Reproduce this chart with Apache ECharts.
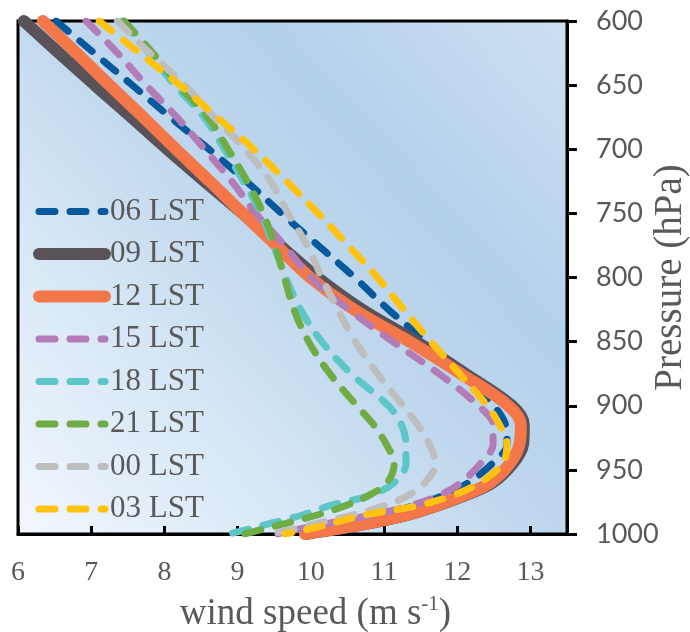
<!DOCTYPE html>
<html>
<head>
<meta charset="utf-8">
<script src="https://cdn.jsdelivr.net/npm/echarts@6/dist/echarts.min.js"></script>
<style>
  html, body { margin: 0; padding: 0; background: #fff; }
  #chart { width: 690px; height: 632px; }
</style>
</head>
<body>
<div id="chart"></div>
<script>
// pressure levels (hPa) shared by all profiles
const pressure = [600, 625, 650, 675, 700, 725, 750, 775, 800, 825, 850, 875, 900, 915, 930, 945, 960, 970, 978, 985, 991, 996, 1000];

// wind speed (m s-1) at each level, per local time
const lst06 = [6.52, 7.04, 7.56, 8.08, 8.61, 9.12, 9.60, 10.10, 10.60, 11.06, 11.58, 12.08, 12.50, 12.66, 12.68, 12.48, 12.15, 11.80, 11.40, 10.95, 10.50, 10.10, 9.72];
const lst09 = [6.08, 6.56, 7.05, 7.55, 8.04, 8.55, 9.07, 9.58, 10.09, 10.70, 11.44, 12.11, 12.75, 12.91, 12.90, 12.76, 12.48, 12.10, 11.72, 11.33, 10.86, 10.37, 9.93];
const lst12 = [6.34, 6.80, 7.25, 7.71, 8.16, 8.62, 9.07, 9.53, 9.99, 10.59, 11.35, 12.05, 12.70, 12.87, 12.85, 12.72, 12.45, 12.08, 11.71, 11.32, 10.85, 10.36, 9.92];
const lst15 = [6.93, 7.36, 7.75, 8.17, 8.55, 8.92, 9.25, 9.64, 10.00, 10.52, 11.12, 11.75, 12.29, 12.49, 12.49, 12.32, 12.05, 11.75, 11.36, 10.85, 10.30, 9.85, 9.55];
const lst18 = [7.42, 7.79, 8.14, 8.54, 8.82, 9.08, 9.32, 9.49, 9.66, 9.86, 10.15, 10.55, 11.06, 11.24, 11.30, 11.30, 11.14, 10.80, 10.25, 9.90, 9.50, 9.17, 8.88];
const lst21 = [7.45, 7.84, 8.19, 8.59, 8.87, 9.13, 9.35, 9.51, 9.64, 9.77, 9.97, 10.26, 10.63, 10.86, 11.03, 11.14, 11.04, 10.79, 10.47, 10.10, 9.71, 9.36, 9.10];
const lst00 = [7.36, 7.80, 8.28, 8.68, 9.10, 9.45, 9.69, 9.95, 10.15, 10.37, 10.61, 10.91, 11.26, 11.46, 11.62, 11.70, 11.56, 11.33, 11.00, 10.58, 10.14, 9.78, 9.45];
const lst03 = [7.11, 7.66, 8.21, 8.72, 9.22, 9.67, 10.10, 10.51, 10.91, 11.27, 11.64, 12.03, 12.41, 12.58, 12.68, 12.62, 12.31, 11.93, 11.45, 10.75, 10.33, 9.98, 9.65];

const names = ['06 LST', '09 LST', '12 LST', '15 LST', '18 LST', '21 LST', '00 LST', '03 LST'];
const profiles = [lst06, lst09, lst12, lst15, lst18, lst21, lst00, lst03];
const colors = ['#07599E', '#5A5259', '#F4774A', '#B47CB7', '#5DC7C8', '#6FAC46', '#BEBEBE', '#FFC20E'];
const solid = ['09 LST', '12 LST'];

const serif = '"Liberation Serif", "Times New Roman", serif';
const textColor = '#595959';

function lineStyleFor(name, color) {
    return solid.includes(name)
        ? { color: color, width: 12, type: 'solid', cap: 'round' }
        : { color: color, width: 7, type: [16, 15], cap: 'round' };
}

const chart = echarts.init(document.getElementById('chart'));

const series = names.map((name, i) => ({
    name: name,
    type: 'line',
    data: profiles[i].map((v, k) => [v, pressure[k]]),
    smooth: 0.35,
    symbol: 'none',
    clip: true,
    color: colors[i],
    lineStyle: lineStyleFor(name, colors[i])
}));

chart.setOption({
    animation: false,
    grid: {
        left: 18, right: 123, top: 21, bottom: 98,
        outerBoundsMode: 'none',
        containLabel: false,
        show: true,
        borderColor: '#000',
        borderWidth: 3,
        backgroundColor: new echarts.graphic.LinearGradient(0, 1, 1, 0, [
            { offset: 0, color: '#F2F7FD' },
            { offset: 0.3, color: '#D6E6F5' },
            { offset: 0.5, color: '#C0D8ED' },
            { offset: 0.7, color: '#B3D0EA' },
            { offset: 1, color: '#CDE0F2' }
        ])
    },
    legend: {
        orient: 'vertical',
        left: 28,
        top: 191,
        itemWidth: 66,
        itemHeight: 14,
        itemGap: 11.5,
        selectedMode: false,
        itemStyle: { opacity: 0 },
        data: names.map((name, i) => ({ name: name, lineStyle: lineStyleFor(name, colors[i]) })),
        textStyle: { fontFamily: serif, fontSize: 31, lineHeight: 31, color: textColor }
    },
    xAxis: {
        type: 'value',
        min: 6, max: 13.5, interval: 1,
        name: '{a|wind speed (m s}{b|-1}{a|)}',
        nameLocation: 'middle',
        nameGap: 60,
        nameMoveOverlap: false,
        nameTextStyle: {
            padding: [0, 0, 0, 46],
            rich: {
                a: { fontFamily: serif, fontSize: 37, lineHeight: 40, color: textColor },
                b: { fontFamily: serif, fontSize: 21, lineHeight: 22, color: textColor, verticalAlign: 'top' }
            }
        },
        axisLine: { lineStyle: { color: '#000', width: 3 } },
        axisTick: { inside: true, length: 8, lineStyle: { color: '#000', width: 3 } },
        axisLabel: { showMaxLabel: false, margin: 25, fontFamily: serif, fontSize: 28, color: textColor },
        splitLine: { show: false }
    },
    yAxis: {
        type: 'value',
        position: 'right',
        inverse: true,
        min: 600, max: 1000, interval: 50,
        name: 'Pressure (hPa)',
        nameLocation: 'middle',
        nameGap: 84,
        nameRotate: 90,
        nameMoveOverlap: false,
        nameTextStyle: { fontFamily: serif, fontSize: 39, color: textColor },
        axisLine: { show: true, lineStyle: { color: '#000', width: 3 } },
        axisTick: { show: true, length: 10, lineStyle: { color: '#000', width: 3 } },
        axisLabel: {
            margin: 29,
            fontFamily: 'Lato, "Open Sans", sans-serif',
            fontSize: 27,
            color: textColor,
            formatter: v => String(v)
        },
        splitLine: { show: false }
    },
    series: series
});
</script>
</body>
</html>
